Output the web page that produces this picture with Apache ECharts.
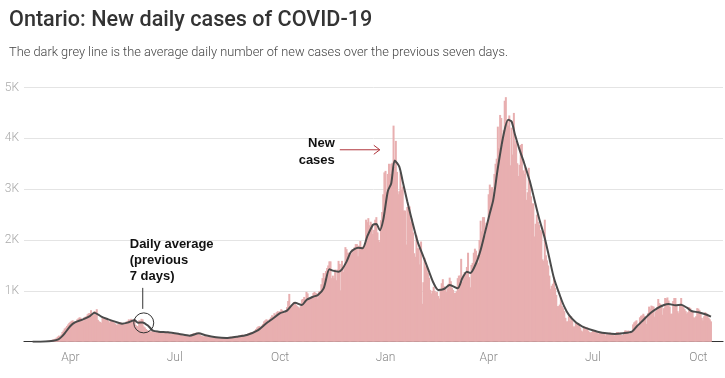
<!DOCTYPE html>
<html><head><meta charset="utf-8">
<script src="https://cdn.jsdelivr.net/npm/echarts@6/dist/echarts.min.js"></script>
<style>html,body{margin:0;padding:0;background:#fff}#c{width:725px;height:378px}</style>
</head><body><div id="c"></div>
<script>
// ---- axis range (one category per day) ----
const axisStart = '2020-02-21';
const axisDays = 610;
const casesStart = '2020-02-28';
const monthLabels = { '01': 'Jan', '04': 'Apr', '07': 'Jul', '10': 'Oct' };
const yTickValues = [0, 1000, 2000, 3000, 4000, 5000];
const yTickLabels = ['', '1K', '2K', '3K', '4K', '5K'];

// ---- new daily cases (pink bars), by month ----
const cases2020Feb = [1, 0];
const cases2020Mar = [2,1,3,2,4,3,5,4,6,8, 12,17,20,24,30,35,45,50,60,80, 100,120,110,140,190,220,260,280,310,340,370];
const cases2020Apr = [390,410,420,400,380,390,440,460,480,470, 440,400,480,490,500,540,560,565,620,540, 520,600,592,640,430,400,390,372,480,460];
const cases2020May = [470,450,440,408,380,410,420,400,380,360, 330,340,350,360,380,365,370,340,360,400, 410,440,420,450,400,420,449,330,310,300,420];
const cases2020Jun = [410,450,440,300,280,250,230,220,210,200, 205,204,190,180,200,195,205,190,185,180, 175,170,190,185,200,170,160,150,160,150];
const cases2020Jul = [155,150,145,150,155,140,130,120,115,110, 120,115,110,125,140,150,160,170,165,180, 170,160,140,120,110,100,110,115,100,95,90];
const cases2020Aug = [85,80,85,80,90,95,85,80,70,65, 70,75,70,75,80,85,90,95,100,90, 105,110,95,100,110,120,115,130,140,125,120];
const cases2020Sep = [140,150,160,170,180,190,185,200,220,250, 280,300,310,290,320,350,400,420,440,430, 410,450,480,520,500,560,540,580,600,580];
const cases2020Oct = [600,640,620,580,560,600,680,800,940,700, 680,720,780,760,720,700,680,660,700,830, 840,880,820,980,950,850,830,860,900,960,980];
const cases2020Nov = [960,950,850,990,1000,1130,1250,1350,1250,1390, 1450,1500,1580,1580,1250,1300,1250,1420,1210,1420, 1590,1530,1010,1590,1370,1480,1860,1820,1750,1750];
const cases2020Dec = [1700,1720,1820,1780,1860,1920,1920,1680,1890,1980, 1850,1870,1880,1940,2400,2350,2430,2290,2360,2320, 2120,2200,2400,2450,2150,2000,1960,2390,2550,2900,3330];
const cases2021Jan = [3360,2940,3300,3500,3300,3500,3520,4250,3440,3950, 3340,2900,2960,3330,2990,3050,2580,2580,1910,2650, 2630,2660,2360,2420,2150,1740,1670,2090,1840,1840,1520];
const cases2021Feb = [1970,745,1170,1650,1480,1490,1360,1260,1020,950, 1000,1080,1000,960,980,900,850,1040,1150,1230, 1090,1060,980,1050,1140,1260,1190,1060];
const cases2021Mar = [1020,960,960,990,1250,1300,1300,1630,1180,1320, 1370,1370,1470,1750,1270,1070,1510,1550,1750,1830, 1790,1700,1550,2000,2380,2170,2450,2450,2090,2340,2330];
const cases2021Apr = [2900,3090,3010,3040,2940,3300,3500,3600,4230,3810, 4460,4400,3870,4160,4740,4810,4360,4250,4450,3470, 4210,3680,4500,3880,3950,3510,3260,3480,3870,3890];
const cases2021May = [3370,3300,3440,2790,2940,3420,3170,2860,2720,2720, 2070,2320,2500,2360,2300,2200,2170,1620,1590,2400, 1700,1600,1500,1300,1040,1100,1140,1270,1060,920,700];
const cases2021Jun = [700,730,870,700,660,600,470,400,400,500, 410,500,420,300,300,380,370,320,350,280, 220,200,300,290,260,280,220,190,180,190];
const cases2021Jul = [210,200,210,190,170,160,190,180,180,180, 170,120,150,150,160,180,160,170,130,120, 150,190,190,170,180,130,130,170,220,220,210];
const cases2021Aug = [220,160,180,190,340,380,400,420,320,320, 480,510,520,550,510,480,350,560,690,650, 710,700,690,490,600,680,840,760,740,720,530];
const cases2021Sep = [660,860,850,870,810,690,550,550,800,860, 860,700,600,560,720,860,700,680,640,600, 550,580,680,660,600,590,480,470,500,660];
const cases2021Oct = [650,620,560,470,420,500,580,560,520,470, 440,400];

// ---- seven-day average (dark grey line), read at these dates ----
const avgDates = ['2020-02-28','2020-03-10','2020-03-17','2020-03-21','2020-03-24','2020-03-27','2020-04-01','2020-04-05','2020-04-12','2020-04-18','2020-04-22','2020-04-28','2020-05-04','2020-05-10','2020-05-16','2020-05-21','2020-05-27','2020-05-30','2020-06-03','2020-06-08','2020-06-12','2020-06-17','2020-06-25','2020-07-05','2020-07-14','2020-07-22','2020-07-28','2020-08-06','2020-08-15','2020-08-24','2020-09-02','2020-09-11','2020-09-19','2020-09-25','2020-10-01','2020-10-07','2020-10-14','2020-10-20','2020-10-24','2020-10-30','2020-11-03','2020-11-08','2020-11-13','2020-11-16','2020-11-21','2020-11-24','2020-11-28','2020-12-02','2020-12-08','2020-12-12','2020-12-16','2020-12-21','2020-12-24','2020-12-27','2020-12-30','2021-01-03','2021-01-06','2021-01-09','2021-01-13','2021-01-16','2021-01-20','2021-01-24','2021-01-29','2021-02-03','2021-02-08','2021-02-12','2021-02-16','2021-02-21','2021-02-26','2021-03-05','2021-03-09','2021-03-13','2021-03-16','2021-03-21','2021-03-25','2021-03-29','2021-04-02','2021-04-05','2021-04-09','2021-04-14','2021-04-18','2021-04-21','2021-04-24','2021-04-28','2021-05-02','2021-05-07','2021-05-11','2021-05-15','2021-05-20','2021-05-24','2021-05-28','2021-06-02','2021-06-06','2021-06-10','2021-06-16','2021-06-22','2021-06-24','2021-06-30','2021-07-05','2021-07-13','2021-07-20','2021-07-27','2021-08-04','2021-08-08','2021-08-14','2021-08-20','2021-08-26','2021-09-01','2021-09-05','2021-09-11','2021-09-16','2021-09-21','2021-09-25','2021-10-01','2021-10-07','2021-10-12'];
const avgValues = [0,5,20,40,90,165,310,380,440,505,571,492,440,394,355,375,420,375,380,310,217,197,185,152,118,165,125,87,73,98,132,217,362,460,560,610,768,722,820,886,919,1050,1425,1398,1378,1425,1575,1772,1850,1840,2067,2297,2317,2190,2396,2960,3118,3563,3445,3150,2756,2396,1969,1673,1378,1149,1018,1037,1116,1051,1248,1378,1350,1543,1805,2165,2527,2789,3413,4069,4364,4331,4069,3774,3511,3150,2789,2429,2035,1641,1248,919,689,526,382,295,276,230,197,165,152,165,197,295,427,559,657,722,742,716,729,669,604,578,539,492];

// ---- build table ----
function addDays(s, n) { const d = new Date(s + 'T00:00:00Z'); d.setUTCDate(d.getUTCDate() + n); return d.toISOString().slice(0, 10); }
const categories = [];
for (let i = 0; i < axisDays; i++) categories.push(addDays(axisStart, i));
const dailyCases = [].concat(cases2020Feb, cases2020Mar, cases2020Apr, cases2020May, cases2020Jun, cases2020Jul, cases2020Aug, cases2020Sep, cases2020Oct, cases2020Nov, cases2020Dec, cases2021Jan, cases2021Feb, cases2021Mar, cases2021Apr, cases2021May, cases2021Jun, cases2021Jul, cases2021Aug, cases2021Sep, cases2021Oct);
const barData = categories.map(() => null);
const off = categories.indexOf(casesStart);
dailyCases.forEach((v, i) => { barData[off + i] = v; });
const lineData = categories.map(() => null);
avgDates.forEach((d, i) => { const k = categories.indexOf(d); if (k >= 0) lineData[k] = avgValues[i]; });

const isQuarter = (idx, v) => v.slice(8) === '01' && monthLabels[v.slice(5, 7)] !== undefined;
const UI = 'Roboto, "Noto Sans", sans-serif';

const chart = echarts.init(document.getElementById('c'));
chart.setOption({
  animation: false,
  backgroundColor: '#fff',
  title: {
    text: 'Ontario: New daily cases of COVID-19',
    subtext: 'The dark grey line is the average daily number of new cases over the previous seven days.',
    left: 4, top: 5, itemGap: 14,
    textStyle: { fontFamily: UI, fontWeight: 500, fontSize: 21.6, color: '#333' },
    subtextStyle: { fontFamily: UI, fontWeight: 300, fontSize: 12.8, color: '#444' }
  },
  grid: { left: 24, right: 2, top: 87.5, bottom: 36.3, containLabel: false },
  xAxis: {
    type: 'category', data: categories, boundaryGap: true,
    axisLine: { lineStyle: { color: '#333', width: 1.2 } },
    axisTick: { interval: isQuarter, alignWithLabel: true, length: 5, lineStyle: { color: '#333' } },
    axisLabel: { interval: isQuarter, formatter: v => monthLabels[v.slice(5, 7)], color: '#888', fontSize: 12, fontFamily: UI, fontWeight: 300, margin: 10 },
    splitLine: { show: false }
  },
  yAxis: {
    type: 'value', min: 0, max: 5000, interval: 1000,
    axisLine: { show: false }, axisTick: { show: false },
    axisLabel: { formatter: v => yTickLabels[yTickValues.indexOf(v)], color: '#aaa', fontSize: 12, fontFamily: UI, fontWeight: 300, margin: 5 },
    splitLine: { lineStyle: { color: '#e4e4e4', width: 1 } }
  },
  series: [
    { type: 'bar', data: barData, barWidth: 2, barGap: '-100%', itemStyle: { color: '#e8afb0' }, silent: true },
    { type: 'line', data: lineData, connectNulls: true, showSymbol: false, symbol: 'none', smooth: 0.25, lineStyle: { color: '#4a4a4a', width: 2 }, silent: true, z: 3 }
  ]
});

// ---- annotations anchored to data coordinates ----
const circ = chart.convertToPixel({ xAxisIndex: 0, yAxisIndex: 0 }, ['2020-06-04', 370]);
const tip = chart.convertToPixel({ xAxisIndex: 0, yAxisIndex: 0 }, ['2020-12-27', 3775]);
const annoFont = 'bold 13px "Liberation Sans", Arial, sans-serif';
const red = '#b0363c';
chart.setOption({
  graphic: [
    { type: 'circle', shape: { cx: circ[0], cy: circ[1], r: 10 }, style: { fill: 'none', stroke: '#333', lineWidth: 1 }, z: 10 },
    { type: 'line', shape: { x1: circ[0] - 1, y1: circ[1] - 35, x2: circ[0] - 1, y2: circ[1] - 14 }, style: { stroke: '#333', lineWidth: 1 }, z: 10 },
    { type: 'text', x: circ[0] - 14, y: circ[1] - 87, style: { text: 'Daily average\n(previous\n7 days)', font: annoFont, lineHeight: 16.3, fill: '#111', verticalAlign: 'top', align: 'left' }, z: 10 },
    { type: 'text', x: tip[0] - 45, y: tip[1] - 14.3, style: { text: 'New\ncases', font: annoFont, lineHeight: 16.7, fill: '#111', verticalAlign: 'top', align: 'right' }, z: 10 },
    { type: 'line', shape: { x1: tip[0] - 40, y1: tip[1], x2: tip[0], y2: tip[1] }, style: { stroke: red, lineWidth: 1 }, z: 10 },
    { type: 'polyline', shape: { points: [[tip[0] - 6, tip[1] - 4.5], [tip[0], tip[1]], [tip[0] - 6, tip[1] + 4.5]] }, style: { stroke: red, lineWidth: 1, fill: 'none' }, z: 10 }
  ]
});
</script>
</body></html>
